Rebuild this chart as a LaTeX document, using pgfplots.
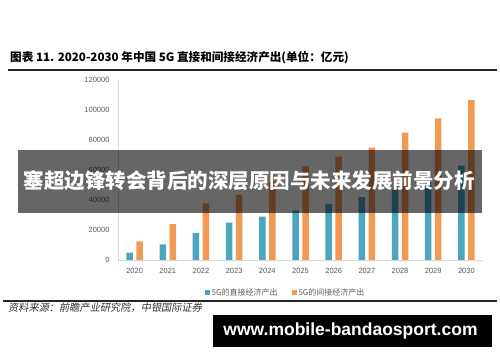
\documentclass[border=0pt]{standalone}
\usepackage{pgfplots}
\pgfplotsset{compat=1.18}
\usepackage{pgfplotstable}
\usepackage{fontspec}
\setmainfont{Liberation Sans}
\newfontfamily\cjk{Noto Sans CJK SC}
\newfontfamily\cjkit[FakeSlant=0.18]{Noto Sans CJK SC}
\definecolor{teal5g}{HTML}{4DA6BF}
\definecolor{orange5g}{HTML}{F09A55}
\definecolor{ticktext}{HTML}{595959}
\pgfplotstableread{
x direct indirect
0 5000 12500
1 10500 24000
2 18000 37800
3 25000 43500
4 29000 52000
5 33000 62500
6 37500 69000
7 42000 75000
8 47000 85000
9 52000 94500
10 63000 106500
}\datatable
\begin{document}
\begin{tikzpicture}
\fill[white] (0pt,0pt) rectangle (500pt,362pt);
\node[anchor=west, inner sep=0pt, font=\cjk\bfseries\fontsize{11.6}{13}\selectfont] at (10pt,304pt) {图表 11. 2020-2030 年中国 5G 直接和间接经济产出(单位：亿元)};
\draw[line width=1.2pt, black!85] (8pt,292pt) -- (497pt,292pt);
\begin{axis}[
  at={(118pt,102pt)}, anchor=south west,
  scale only axis, width=365pt, height=180pt,
  ybar, bar width=6.5pt,
  xmin=-0.5, xmax=10.5, ymin=0, ymax=120000,
  xtick={0,...,10},
  xticklabels={2020,2021,2022,2023,2024,2025,2026,2027,2028,2029,2030},
  ytick={0,20000,40000,60000,80000,100000,120000},
  scaled y ticks=false,
  /pgf/number format/fixed,
  /pgf/number format/set thousands separator={},
  /pgf/number format/assume math mode=true,
  axis x line*=bottom, axis y line*=left,
  axis line style={draw=gray!30, line width=0.8pt},
  major tick length=0pt,
  tick label style={font=\fontsize{7.5}{9}\selectfont, text=ticktext},
  xticklabel style={yshift=-5pt},
  yticklabel style={xshift=-5pt},
  legend style={at={(0.459,-0.183)}, anchor=center, draw=none, fill=none,
    legend columns=2, font=\cjk\fontsize{8}{9}\selectfont, text=gray!75!black,
    /tikz/every even column/.append style={column sep=12pt}},
  legend image code/.code={\fill[#1] (0pt,-2.5pt) rectangle (5pt,2.5pt);},
]
\addplot[fill=teal5g, draw=none, bar shift=-5pt] table[x=x, y=direct] {\datatable};
\addlegendentry{5G的直接经济产出}
\addplot[fill=orange5g, draw=none, bar shift=5pt] table[x=x, y=indirect] {\datatable};
\addlegendentry{5G的间接经济产出}
\end{axis}
\draw[line width=1.2pt, black!85] (3pt,61pt) -- (497pt,61pt);
\node[anchor=west, inner sep=0pt, font=\cjkit\fontsize{10.2}{12}\selectfont, text=black!80] at (8pt,54pt) {资料来源：前瞻产业研究院，中银国际证券};
\fill[black, opacity=0.6] (18pt,149pt) rectangle (482pt,212pt);
\node[text=white, font=\cjk\bfseries\fontsize{20.5}{24}\selectfont, inner sep=0pt] at (249pt,181pt) {塞超边锋转会背后的深层原因与未来发展前景分析};
\fill[black] (213pt,15pt) rectangle (492pt,47pt);
\node[text=white, font=\bfseries\fontsize{17.5}{20}\selectfont, inner sep=0pt] at (350.5pt,31pt) {www.mobile-bandaosport.com};
\end{tikzpicture}
\end{document}
